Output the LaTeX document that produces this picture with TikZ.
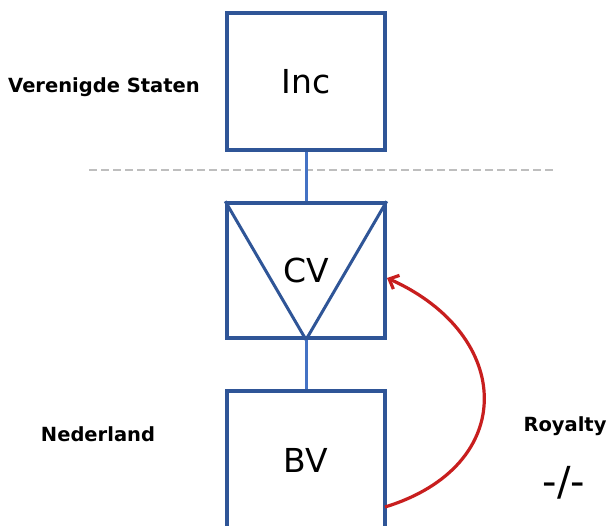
\documentclass[tikz,border=0pt]{standalone}
\usepackage{fontspec}
\setmainfont{DejaVu Sans}
\usetikzlibrary{arrows.meta}
\definecolor{boxblue}{RGB}{47,85,151}
\definecolor{linkblue}{RGB}{68,114,196}
\definecolor{royred}{RGB}{200,30,30}
\definecolor{dashgray}{RGB}{190,190,190}
\tikzset{
  entity/.style={draw=boxblue, line width=3.5pt, minimum width=158pt, inner sep=0pt, font=\fontsize{33}{38}\selectfont},
  link/.style={draw=linkblue, line width=3pt},
  region/.style={anchor=base, font=\bfseries\fontsize{19.5}{22}\selectfont},
  flow/.style={draw=royred, line width=3.2pt, -{Straight Barb[length=8pt,width=15pt]}},
  border/.style={draw=dashgray, line width=1.8pt, dash pattern=on 8pt off 4pt}
}
\begin{document}
\begin{tikzpicture}[x=1pt,y=-1pt]
\useasboundingbox (0,0) rectangle (608,526);
\clip (0,0) rectangle (608,526);
\fill[white] (0,0) rectangle (608,526);
\coordinate (dl) at (89,170);
\coordinate (dr) at (553,170);
\draw[border] (dl) -- (dr);
\node[entity, minimum height=137pt] (inc) at (306,81.5) {Inc};
\node[entity, minimum height=135pt] (cv) at (306,270.5) {CV};
\node[entity, minimum height=138pt] (bv) at (306,460) {BV};
\draw[boxblue, line width=3pt, line join=round] (cv.north west) -- (cv.south) -- (cv.north east);
\draw[link] (inc.south) -- (cv.north);
\draw[link] (cv.south) -- (bv.north);
\coordinate (rs) at (385,507);
\coordinate (re) at (387,278);
\draw[flow] (rs) .. controls (519,466) and (514,335) .. (re);
\node[region] (us) at (104,93) {Verenigde Staten};
\node[region] (nl) at (98,442) {Nederland};
\node[region] (roy) at (565,432) {Royalty};
\node[anchor=base, font=\fontsize{40}{44}\selectfont] (nil) at (564,496) {-/-};
\end{tikzpicture}
\end{document}
